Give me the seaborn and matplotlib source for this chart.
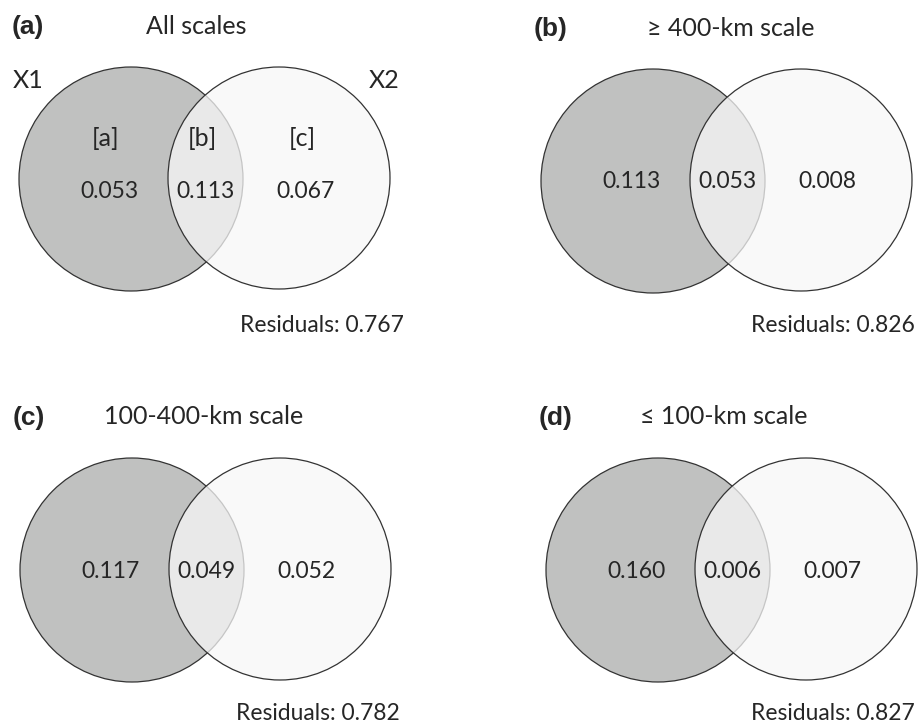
#!/usr/bin/env python3
from __future__ import annotations

import matplotlib

matplotlib.use("Agg")
import matplotlib.pyplot as plt
from matplotlib.patches import Circle
import seaborn as sns

# variation partitioning results, one entry per panel
panel_tags = ["(a)", "(b)", "(c)", "(d)"]
panel_titles = ["All scales", "\u2265 400-km scale", "100-400-km scale", "\u2264 100-km scale"]
unique_x1 = [0.053, 0.113, 0.117, 0.160]
shared_x1_x2 = [0.113, 0.053, 0.049, 0.006]
unique_x2 = [0.067, 0.008, 0.052, 0.007]
residuals = [0.767, 0.826, 0.782, 0.827]
set_names = ["X1", "X2"]
fraction_tags = ["[a]", "[b]", "[c]"]

BODY_FONT = ["Lato", "DejaVu Sans"]
TAG_FONT = ["Liberation Sans", "DejaVu Sans"]


def draw_panel(ax, i, ox, oy, title_x, title_align, resid_x, resid_align, resid_y, with_names):
    left = Circle((ox + 131, oy + 179), 112, facecolor="#c0c1c0", edgecolor="#333333", linewidth=0.9, zorder=1)
    right = Circle((ox + 279, oy + 178), 111, facecolor=(0.97, 0.97, 0.97, 0.75), edgecolor="#333333",
                   linewidth=0.9, zorder=2)
    ax.add_patch(left)
    ax.add_patch(right)

    ax.text(ox + 12, oy + 27, panel_tags[i], fontsize=19, fontweight="bold", family=TAG_FONT, ha="left", va="center")
    ax.text(title_x, oy + 26, panel_titles[i], fontsize=18, family=BODY_FONT, ha=title_align, va="center")

    vy = oy + 192 if with_names else oy + 180
    vals = [unique_x1[i], shared_x1_x2[i], unique_x2[i]]
    xs = [ox + 109, ox + 205, ox + 305]
    for x, v in zip(xs, vals):
        ax.text(x, vy, f"{v:.3f}", fontsize=16.5, family=BODY_FONT, ha="center", va="center", zorder=3)

    if with_names:
        ax.text(ox + 28, oy + 80, set_names[0], fontsize=18, family=BODY_FONT, ha="center", va="center")
        ax.text(ox + 384, oy + 80, set_names[1], fontsize=18, family=BODY_FONT, ha="center", va="center")
        for x, t in zip(xs, fraction_tags):
            ax.text(x - 3, oy + 139, t, fontsize=18, family=BODY_FONT, ha="center", va="center", zorder=3)

    ax.text(resid_x, resid_y, f"Residuals: {residuals[i]:.3f}", fontsize=16.5, family=BODY_FONT,
            ha=resid_align, va="center")


def main() -> None:
    sns.set_style("white")
    plt.rcParams["font.family"] = BODY_FONT

    fig = plt.figure(figsize=(9.21, 7.27), dpi=100)
    ax = fig.add_axes([0, 0, 1, 1])
    ax.set_xlim(0, 921)
    ax.set_ylim(727, 0)
    ax.axis("off")

    draw_panel(ax, 0, 0, 0, 196, "center", 240, "left", 325, True)
    draw_panel(ax, 1, 522, 2, 647, "left", 915, "right", 325, False)
    draw_panel(ax, 2, 1, 391, 104, "left", 236, "left", 713, False)
    draw_panel(ax, 3, 527, 391, 640, "left", 915, "right", 713, False)

    fig.savefig("out.png", dpi=100, facecolor="white")
    plt.close(fig)


if __name__ == "__main__":
    main()
